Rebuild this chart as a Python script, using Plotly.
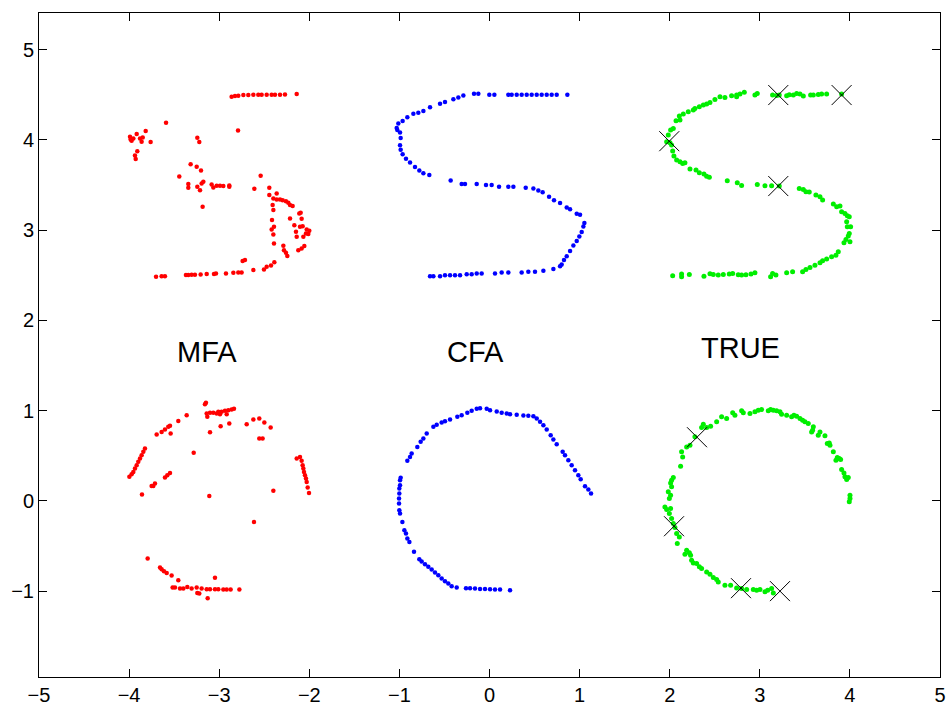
import plotly.graph_objects as go

# ---------------- data ----------------
mfa_x = [-2.140, -2.270, -2.325, -2.381, -2.418, -2.473, -2.529, -2.566, -2.621, -2.677, -2.732, -2.788, -2.825, -2.862,
         -3.990, -3.983, -3.972, -3.953, -3.916, -3.879, -3.861, -3.849, -3.816, -3.761, -3.909, -3.935, -3.927,
         -3.590, -3.243, -3.221, -2.791,
         -3.317, -3.250, -3.202, -3.443, -3.343, -3.343, -3.243, -3.213, -3.195, -3.176, -3.084, -3.065, -3.028,
         -2.991, -2.954, -2.888, -2.888, -3.184, -2.540,
         -2.610, -2.444, -2.444, -2.362, -2.399, -2.407, -2.362, -2.325, -2.296, -2.259, -2.233, -2.214, -2.185,
         -2.399, -2.414, -2.418, -2.399, -2.392, -2.392, -2.214, -2.111, -2.096, -2.085, -2.166, -2.103, -2.074,
         -2.029, -2.000, -2.011, -2.037, -2.148, -2.140, -2.066, -2.055, -2.085, -2.122, -2.288, -2.281, -2.259, -2.244,
         -2.388, -2.425, -2.473, -2.503, -2.621, -2.714, -2.740, -2.751, -2.788, -2.843, -2.925, -3.036, -3.058,
         -3.139, -3.206, -3.269, -3.306, -3.343, -3.369, -3.602, -3.639, -3.701,
         -3.158, -3.147, -3.139, -3.132, -3.102, -3.065, -3.028, -3.010, -2.973, -2.936, -2.899, -2.862, -2.836,
         -2.991, -2.917, -3.361, -3.454, -3.694, -3.639, -3.602, -3.565, -3.546, -3.539, -3.102, -2.984, -2.888,
         -2.695, -2.621, -2.555, -2.499, -2.429, -2.555, -2.518, -3.283,
         -3.824, -3.842, -3.861, -3.879, -3.898, -3.916, -3.935, -3.953, -3.972, -3.997,
         -3.546, -3.576, -3.602, -3.713, -3.731, -3.750, -3.857, -3.110,
         -2.140, -2.103, -2.085, -2.074, -2.066, -2.059, -2.048, -2.037, -2.029, -2.018, -2.003, -2.399, -2.614,
         -3.794, -3.657, -3.639, -3.613, -3.583, -3.528, -3.454, -3.517, -3.491, -3.435, -3.398, -3.354, -3.306,
         -3.250, -3.243, -3.221, -3.195, -3.139, -3.102, -3.047, -3.010, -2.954, -2.917, -2.873, -3.047, -3.128, -2.776]
mfa_y = [4.507, 4.503, 4.500, 4.500, 4.500, 4.500, 4.500, 4.500, 4.500, 4.496, 4.496, 4.488, 4.485, 4.477,
         4.034, 4.005, 3.990, 4.016, 4.064, 4.016, 3.979, 4.027, 4.097, 3.975, 3.875, 3.827, 3.787,
         4.189, 4.023, 3.975, 4.104,
         3.731, 3.702, 3.661, 3.595, 3.510, 3.469, 3.480, 3.443, 3.517, 3.535, 3.506, 3.473, 3.491,
         3.491, 3.488, 3.495, 3.480, 3.258, 3.602,
         3.458, 3.469, 3.388, 3.406, 3.351, 3.277, 3.340, 3.340, 3.332, 3.321, 3.303, 3.277, 3.266,
         3.222, 3.111, 3.007, 2.952, 3.037, 2.852, 3.129, 3.185, 3.192, 3.126, 3.055, 3.037, 3.044,
         3.007, 2.993, 2.956, 2.963, 2.981, 2.926, 2.926, 2.823, 2.797, 2.778, 2.826, 2.778, 2.749, 2.712,
         2.645, 2.608, 2.594, 2.564, 2.557, 2.668, 2.657, 2.531, 2.531, 2.527, 2.520, 2.520, 2.513,
         2.513, 2.509, 2.505, 2.505, 2.502, 2.502, 2.490, 2.490, 2.483,
         1.072, 1.087, 0.968, 0.932, 0.976, 0.976, 0.968, 0.987, 0.987, 0.998, 1.005, 1.013, 1.020,
         0.961, 0.961, 0.950, 0.887, 0.736, 0.765, 0.791, 0.821, 0.832, 0.747, 0.762, 0.828, 0.858,
         0.850, 0.902, 0.913, 0.869, 0.813, 0.691, 0.691, 0.533,
         0.581, 0.544, 0.507, 0.470, 0.433, 0.396, 0.359, 0.322, 0.296, 0.267,
         0.311, 0.285, 0.259, 0.193, 0.167, 0.167, 0.071, 0.056,
         0.470, 0.488, 0.444, 0.396, 0.359, 0.322, 0.285, 0.248, 0.211, 0.149, 0.089, 0.112, -0.232,
         -0.638, -0.738, -0.756, -0.779, -0.797, -0.827, -0.878, -0.960, -0.960, -0.971, -0.971, -0.952, -0.971,
         -0.960, -1.019, -1.026, -0.971, -0.978, -0.978, -0.978, -0.978, -0.982, -0.982, -0.982, -0.852, -1.078, -0.982]

cfa_x = [0.864, 0.746, 0.690, 0.635, 0.579, 0.524, 0.468, 0.413, 0.357, 0.302, 0.246, 0.209, 0.054, -0.002,
         -0.124, -0.172, -0.290, -0.346, -0.401, -0.494, -0.549, -0.660, -0.734, -0.790, -0.845, -0.912, -0.964,
         -1.012, -1.030, -1.023, -0.993, -0.986, -0.993, -0.986, -0.964, -0.927, -0.882, -0.827, -0.779, -0.734,
         -0.668, -0.431, -0.309, -0.272, -0.142, -0.039, 0.024, 0.106, 0.209, 0.265, 0.402, 0.487, 0.542, 0.590,
         0.661, 0.716, 0.783, 0.857, 0.894, 0.968, 1.005, 1.053, 1.042, 1.023, 0.997, 0.968, 0.931, 0.894, 0.857,
         0.827, 0.801, 0.783, 0.709, 0.598, 0.505, 0.431, 0.357, 0.209, 0.135, 0.061, -0.087, -0.142, -0.198,
         -0.253, -0.327, -0.383, -0.438, -0.494, -0.549, -0.623, -0.660,
         0.228, 0.117, 0.061, 0.006, -0.050, -0.105, -0.161, -0.216, -0.261, -0.364, -0.420, -0.457, -0.494,
         -0.531, -0.568, -0.605, -0.642, -0.679, -0.716, -0.753, -0.779, -0.838, -0.889, -0.912, -0.927, -0.945,
         -0.967, -0.993, -1.001, -1.004, -1.004, -1.001, -1.001, -0.993, -0.993, -0.986, -0.912, -0.882, -0.864,
         -0.801, -0.764, -0.734, -0.697, -0.623, -0.586, -0.531, -0.494, -0.438, -0.357, -0.309, -0.246, -0.198,
         -0.142, -0.105, -0.031, 0.006, 0.080, 0.135, 0.191, 0.228, 0.302, 0.376, 0.431, 0.487, 0.524, 0.561,
         0.598, 0.635, 0.679, 0.709, 0.746, 0.812, 0.838, 0.875, 0.912, 0.949, 0.986, 1.012, 1.060, 1.097, 1.127]
cfa_y = [4.50, 4.50, 4.50, 4.50, 4.50, 4.50, 4.50, 4.50, 4.50, 4.50, 4.50, 4.50, 4.50, 4.50,
         4.51, 4.51, 4.49, 4.47, 4.45, 4.42, 4.40, 4.36, 4.32, 4.30, 4.29, 4.25, 4.21,
         4.18, 4.13, 4.11, 4.08, 4.02, 3.94, 3.89, 3.84, 3.79, 3.75, 3.70, 3.66, 3.63,
         3.61, 3.55, 3.51, 3.51, 3.51, 3.50, 3.50, 3.48, 3.48, 3.48, 3.47, 3.46, 3.44, 3.42,
         3.37, 3.33, 3.30, 3.25, 3.23, 3.18, 3.17, 3.08, 3.04, 2.98, 2.93, 2.88, 2.83, 2.77, 2.71,
         2.67, 2.62, 2.60, 2.57, 2.55, 2.54, 2.54, 2.53, 2.53, 2.53, 2.52, 2.52, 2.52, 2.51,
         2.51, 2.50, 2.50, 2.50, 2.50, 2.49, 2.49, 2.49,
         -0.989, -0.982, -0.982, -0.978, -0.974, -0.974, -0.971, -0.967, -0.967, -0.960, -0.945, -0.915, -0.889,
         -0.860, -0.823, -0.793, -0.760, -0.730, -0.701, -0.671, -0.646, -0.564, -0.454, -0.417, -0.361, -0.324,
         -0.232, -0.140, -0.103, -0.029, 0.027, 0.082, 0.137, 0.174, 0.230, 0.256, 0.444, 0.488, 0.525,
         0.599, 0.655, 0.691, 0.747, 0.821, 0.843, 0.869, 0.884, 0.902, 0.932, 0.950, 0.976, 0.998,
         1.020, 1.028, 1.020, 1.005, 0.991, 0.976, 0.968, 0.961, 0.954, 0.946, 0.943, 0.939, 0.913, 0.876,
         0.839, 0.791, 0.728, 0.680, 0.629, 0.544, 0.507, 0.451, 0.396, 0.341, 0.285, 0.241, 0.163, 0.126, 0.082]

true_x = [3.908, 3.742, 3.686, 3.649, 3.594, 3.564, 3.483, 3.446, 3.409, 3.372, 3.327, 3.298, 3.216, 3.187,
          3.142, 2.972, 2.946, 2.828, 2.780, 2.743, 2.743, 2.687, 2.613, 2.558, 2.502, 2.447, 2.410, 2.373,
          2.329, 2.280, 2.262, 2.206, 2.151, 2.107, 2.114, 2.070, 2.040, 2.010, 1.984, 1.966, 2.003, 2.021,
          2.033, 2.047, 2.077, 2.114, 2.144, 2.169, 2.225, 2.292, 2.329, 2.380, 2.410, 2.440, 2.639, 2.750,
          2.798, 2.972, 3.057, 3.131, 3.216, 3.438, 3.483, 3.512, 3.549, 3.623, 3.668, 3.697, 3.816, 3.853,
          3.890, 3.908, 3.945, 3.971, 3.993, 3.964, 3.971, 4.008, 3.993, 3.982, 3.956, 3.934, 4.001, 3.871,
          3.845, 3.797, 3.742, 3.697, 3.668, 3.612, 3.557, 3.512, 3.475, 3.364, 3.298, 3.179, 3.142, 3.120,
          2.946, 2.902, 2.846, 2.798, 2.761, 2.699, 2.661, 2.595, 2.539, 2.484, 2.447, 2.380, 2.218, 2.132,
          2.132, 2.033,
          4.001, 4.001, 3.993, 3.982, 3.964, 3.945, 3.934, 3.908, 3.897, 3.882, 3.860, 3.845, 3.816, 3.779,
          3.771, 3.749, 3.723, 3.668, 3.649, 3.594, 3.586, 3.575, 3.538, 3.501, 3.475, 3.446, 3.409, 3.379,
          3.353, 3.298, 3.242, 3.224, 3.187, 3.150, 3.120, 3.094, 3.020, 2.983, 2.946, 2.891, 2.817, 2.798,
          2.724, 2.699, 2.632, 2.576, 2.521, 2.454, 2.410, 2.373, 2.354, 2.280, 2.225, 2.188, 2.132, 2.144,
          2.121, 2.040, 2.021, 2.010, 2.021, 1.984, 2.010, 1.996, 1.947, 1.966, 2.010, 1.996, 2.021, 2.040,
          2.058, 2.077, 2.107, 2.084, 2.188, 2.218, 2.169, 2.232, 2.243, 2.262, 2.299, 2.329, 2.354, 2.410,
          2.447, 2.484, 2.521, 2.539, 2.613, 2.676, 2.743, 2.798, 2.854, 2.928, 2.965, 3.002, 3.057, 3.087,
          3.131, 3.150]
true_y = [4.507, 4.507, 4.507, 4.503, 4.496, 4.496, 4.485, 4.507, 4.514, 4.496, 4.500, 4.489, 4.496, 4.492,
          4.496, 4.514, 4.496, 4.526, 4.507, 4.478, 4.496, 4.489, 4.470, 4.478, 4.448, 4.415, 4.396, 4.385,
          4.367, 4.348, 4.330, 4.311, 4.285, 4.263, 4.219, 4.212, 4.127, 4.108, 4.053, 3.979, 3.968, 3.942,
          3.876, 3.820, 3.776, 3.757, 3.739, 3.746, 3.676, 3.665, 3.635, 3.621, 3.598, 3.587, 3.547, 3.525,
          3.495, 3.506, 3.491, 3.491, 3.488, 3.462, 3.451, 3.425, 3.421, 3.388, 3.370, 3.333, 3.288, 3.259,
          3.266, 3.203, 3.185, 3.159, 3.148, 3.092, 3.037, 3.037, 2.963, 2.934, 2.897, 2.860, 2.871, 2.760,
          2.723, 2.705, 2.679, 2.660, 2.638, 2.612, 2.587, 2.564, 2.539, 2.539, 2.527, 2.502, 2.520, 2.483,
          2.527, 2.513, 2.505, 2.502, 2.505, 2.520, 2.513, 2.509, 2.502, 2.509, 2.516, 2.490, 2.509, 2.513,
          2.483, 2.494,
          0.064, 0.027, -0.010, 0.259, 0.237, 0.267, 0.311, 0.348, 0.459, 0.470, 0.481, 0.451, 0.544, 0.618,
          0.643, 0.636, 0.721, 0.765, 0.728, 0.821, 0.784, 0.765, 0.858, 0.876, 0.895, 0.913, 0.939, 0.950,
          0.932, 0.950, 0.961, 0.987, 0.998, 1.005, 1.013, 0.998, 1.013, 1.005, 0.987, 0.968, 0.976, 0.998,
          0.950, 0.976, 0.913, 0.932, 0.876, 0.828, 0.813, 0.850, 0.813, 0.710, 0.618, 0.599, 0.544, 0.488,
          0.385, 0.259, 0.230, 0.200, 0.156, 0.101, 0.064, 0.027, -0.066, -0.095, -0.084, -0.140, -0.195, -0.250,
          -0.295, -0.361, -0.398, -0.472, -0.546, -0.575, -0.590, -0.601, -0.657, -0.686, -0.694, -0.730, -0.749, -0.786,
          -0.812, -0.849, -0.871, -0.897, -0.934, -0.934, -0.963, -0.971, -0.982, -0.982, -0.989, -0.982, -1.007, -0.989,
          -0.971, -1.019]

cross_x = [3.205, 3.908, 1.995, 3.205, 2.303, 2.048, 2.791, 3.224]
cross_y = [4.496, 4.496, 3.985, 3.488, 0.706, -0.280, -0.966, -0.999]

label_text = ["MFA", "CFA", "TRUE"]
label_x = [-3.13, -0.15, 2.79]
label_y = [1.65, 1.65, 1.69]

x_ticks = [-5, -4, -3, -2, -1, 0, 1, 2, 3, 4, 5]
y_ticks = [-1, 0, 1, 2, 3, 4, 5]
x_range = [-5, 5]
y_range = [-1.95, 5.405]

# ---------------- figure ----------------
fig = go.Figure()
fig.add_trace(go.Scatter(x=mfa_x, y=mfa_y, mode="markers",
                         marker=dict(color="#ff0000", size=4.5, line=dict(width=0)), showlegend=False))
fig.add_trace(go.Scatter(x=cfa_x, y=cfa_y, mode="markers",
                         marker=dict(color="#0000ff", size=4.5, line=dict(width=0)), showlegend=False))
fig.add_trace(go.Scatter(x=true_x, y=true_y, mode="markers",
                         marker=dict(color="#00ee00", size=5, line=dict(width=0)), showlegend=False))
fig.add_trace(go.Scatter(x=cross_x, y=cross_y, mode="markers",
                         marker=dict(symbol="x-thin-open", color="black", size=20,
                                     line=dict(width=1, color="black")), showlegend=False))

for t, lx, ly in zip(label_text, label_x, label_y):
    fig.add_annotation(x=lx, y=ly, text=t, showarrow=False,
                       font=dict(family="Liberation Sans, Arial, sans-serif", size=29, color="black"))

axis_common = dict(showgrid=False, zeroline=False, showline=True, linecolor="black", linewidth=1,
                   mirror="ticks", ticks="inside", ticklen=8, tickwidth=1, tickcolor="black",
                   automargin=False,
                   tickfont=dict(family="Liberation Sans, Arial, sans-serif", size=20, color="black"))

fig.update_xaxes(range=x_range, tickmode="array", tickvals=x_ticks,
                 ticktext=[str(v).replace("-", "\u2212") for v in x_ticks], **axis_common)
fig.update_yaxes(range=y_range, tickmode="array", tickvals=y_ticks,
                 ticktext=[str(v).replace("-", "\u2212") for v in y_ticks], **axis_common)

fig.update_layout(width=946, height=704, margin=dict(l=39, r=6, t=13, b=27, autoexpand=False),
                  paper_bgcolor="white", plot_bgcolor="white")

fig.write_html("out.html", config={"displayModeBar": False},
               post_script="document.body.style.margin='0';document.body.style.overflow='hidden';")
